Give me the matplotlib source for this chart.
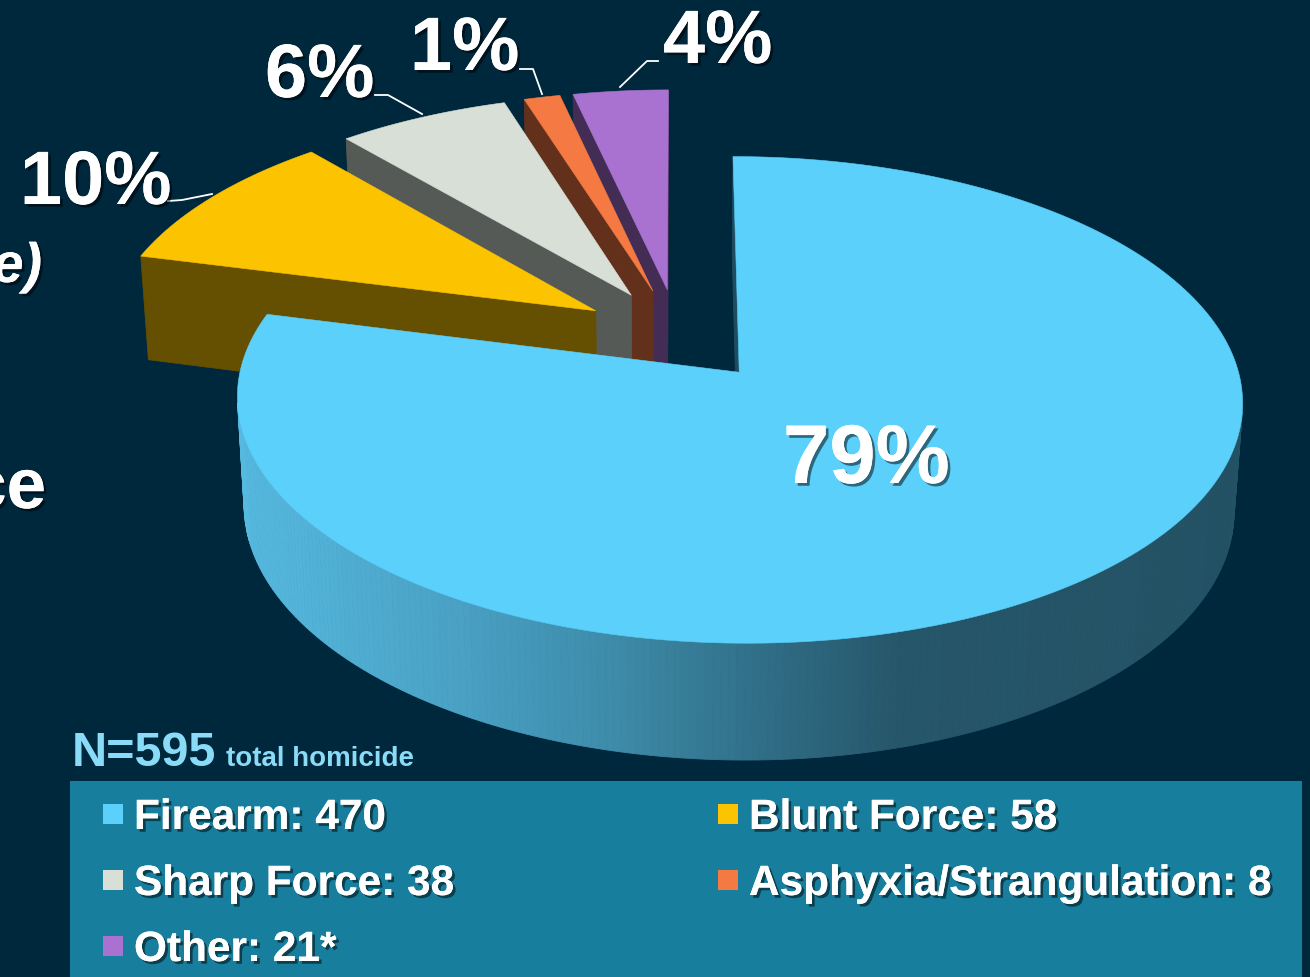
import numpy as np
import matplotlib.pyplot as plt
from matplotlib.patches import Polygon, Rectangle
from matplotlib.colors import LinearSegmentedColormap
import matplotlib.patheffects as pe
from matplotlib import font_manager

# ---- data ----
categories = ['Firearm', 'Blunt Force', 'Sharp Force', 'Asphyxia/Strangulation', 'Other']
counts = [470, 58, 38, 8, 21]
pct_labels = ['79%', '10%', '6%', '1%', '4%']
legend_labels = ['Firearm: 470', 'Blunt Force: 58', 'Sharp Force: 38',
                 'Asphyxia/Strangulation: 8', 'Other: 21*']
total_label = 'N=595'

# ---- style ----
bg = '#00283d'
top_colors = ['#5bd0fb', '#fcc300', '#d8dfd7', '#f47942', '#a972d0']
wall_colors = ['#1f4d60', '#654f00', '#555a56', '#63301b', '#432d55']
side_cmap = LinearSegmentedColormap.from_list(
    'side', [(0.0, '#56b9df'), (0.21, '#4aa2c6'), (0.38, '#3d8aa8'),
             (0.54, '#2f6b83'), (0.66, '#26566a'), (1.0, '#245265')])

names = {f.name for f in font_manager.fontManager.ttflist}
narrow = 'Liberation Sans Narrow' if 'Liberation Sans Narrow' in names else 'Liberation Sans'
leg_fs = 33 if narrow == 'Liberation Sans Narrow' else 30.5
plt.rcParams['font.family'] = ['Liberation Sans', 'DejaVu Sans']

shadow = [pe.withSimplePatchShadow(offset=(2, -2), shadow_rgbFace='black', alpha=0.5),
          pe.Normal()]

fig = plt.figure(figsize=(13.1, 9.78), dpi=100)
fig.patch.set_facecolor(bg)
ax = fig.add_axes([0, 0, 1, 1])
ax.set_xlim(0, 1310)
ax.set_ylim(978, 0)
ax.axis('off')

# ---- simple perspective camera for the 3D pie ----
R, H, explode = 1.0, 0.25, 0.2
D, phi, K = 7.9, np.radians(28.2), 3875
X0, Y0 = 678, 336
cphi, sphi = np.cos(phi), np.sin(phi)
cam = np.array([0.0, -D * cphi, D * sphi])


def proj(p):
    p = np.atleast_2d(p)
    r = p - cam
    depth = r[:, 1] * cphi - r[:, 2] * sphi
    sx = r[:, 0] / depth
    sy = (r[:, 1] * sphi + r[:, 2] * cphi) / depth
    return np.column_stack([X0 + K * sx, Y0 - K * sy]), depth


def arc(cx, cy, a0, a1, z, n):
    t = np.radians(np.linspace(a0, a1, n))
    return np.column_stack([cx + R * np.cos(t), cy + R * np.sin(t), np.full(n, z)])


def visible(point, normal):
    return np.dot(cam - point, normal) > 0


fracs = np.array(counts) / sum(counts)
starts = 90 - 360 * np.concatenate([[0], np.cumsum(fracs)[:-1]])
ends = starts - 360 * fracs
mids = (starts + ends) / 2

slices = []
for i in range(len(counts)):
    m = np.radians(mids[i])
    cx, cy = explode * np.cos(m), explode * np.sin(m)
    slices.append((i, cx, cy))
# farthest first
slices.sort(key=lambda s: -proj([s[1], s[2], 0])[1][0])

for i, cx, cy in slices:
    a0, a1 = ends[i], starts[i]
    faces = []
    # radial walls
    for a, nrm in [(a1, a1 + 90), (a0, a0 - 90)]:
        t = np.radians(a)
        rim = np.array([cx + R * np.cos(t), cy + R * np.sin(t)])
        quad = np.array([[cx, cy, 0], [rim[0], rim[1], 0], [rim[0], rim[1], -H], [cx, cy, -H]])
        n = np.array([np.cos(np.radians(nrm)), np.sin(np.radians(nrm)), 0])
        if visible(quad.mean(axis=0), n):
            xy, dep = proj(quad)
            faces.append((dep.mean(), xy, wall_colors[i]))
    # outer curved side, in thin strips
    nstrip = max(2, int(abs(a1 - a0) / 0.8))
    edges = np.linspace(a0, a1, nstrip + 1)
    for k in range(nstrip):
        am = np.radians((edges[k] + edges[k + 1]) / 2)
        n = np.array([np.cos(am), np.sin(am), 0])
        pm = np.array([cx + R * np.cos(am), cy + R * np.sin(am), -H / 2])
        if not visible(pm, n):
            continue
        top = arc(cx, cy, edges[k], edges[k + 1], 0, 2)
        bot = arc(cx, cy, edges[k + 1], edges[k], -H, 2)
        xy, dep = proj(np.vstack([top, bot]))
        if i == 0:
            col = side_cmap(np.clip((xy[:, 0].mean() - 240) / 1000, 0, 1))
        else:
            col = wall_colors[i]
        faces.append((dep.mean(), xy, col))
    faces.sort(key=lambda f: -f[0])
    for _, xy, col in faces:
        ax.add_patch(Polygon(xy, closed=True, facecolor=col, edgecolor=col, lw=0.6))
    # top face
    topface = np.vstack([[cx, cy, 0], arc(cx, cy, a0, a1, 0, 240)])
    xy, _ = proj(topface)
    ax.add_patch(Polygon(xy, closed=True, facecolor=top_colors[i], edgecolor=top_colors[i], lw=0.4))

# ---- percentage labels with leader lines ----
label_pos = [(783, 484, 60), (20, 205, 54.5), (265, 98, 54.5), (410, 71, 54.5), (663, 64, 54.5)]
leaders = [None,
           [(168, 202), (182, 201), (212, 195)],
           [(375, 96), (388, 96), (422, 115)],
           [(520, 70), (533, 70), (542, 95)],
           [(658, 62), (647, 62), (620, 88)]]
for i, lab in enumerate(pct_labels):
    x, y, fs = label_pos[i]
    ax.text(x, y, lab, fontsize=fs, fontweight='bold', color='white',
            ha='left', va='baseline', path_effects=shadow, zorder=5)
    if leaders[i]:
        lx, ly = zip(*leaders[i])
        ax.plot(lx, ly, color='white', lw=1.3, zorder=4)

# clipped fragments of slide text on the left edge
ax.text(42, 283, 'e)', fontsize=40, fontweight='bold', fontstyle='italic',
        color='white', ha='right', va='baseline', path_effects=shadow)
ax.text(46, 509, 'ce', fontsize=51, fontweight='bold', color='white',
        ha='right', va='baseline', path_effects=shadow)

# ---- legend ----
ax.add_patch(Rectangle((70, 782), 1232, 200, facecolor='#177f9d', edgecolor='none', zorder=2))
ax.text(72, 766, total_label, fontsize=35, fontweight='bold', color='#8adbf7',
        family=[narrow, 'DejaVu Sans'], ha='left', va='baseline', zorder=3)
ax.text(226, 766, 'total homicide', fontsize=20, fontweight='bold', color='#8adbf7',
        family=[narrow, 'DejaVu Sans'], ha='left', va='baseline', zorder=3)

leg_pos = [(103, 830), (718, 830), (103, 896), (718, 896), (103, 962)]
for i, lab in enumerate(legend_labels):
    x, y = leg_pos[i]
    ax.add_patch(Rectangle((x, y - 25), 20, 20, facecolor=top_colors[i], edgecolor='none', zorder=3))
    ax.text(x + 31, y, lab, fontsize=leg_fs, fontweight='bold', color='white',
            family=[narrow, 'DejaVu Sans'], ha='left', va='baseline',
            path_effects=shadow, zorder=4)

fig.savefig('out.png', dpi=100, facecolor=bg)
